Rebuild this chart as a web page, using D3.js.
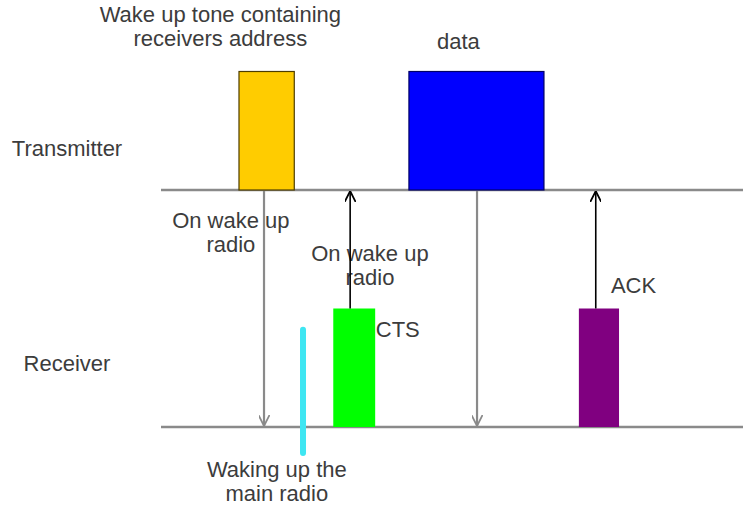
<!DOCTYPE html>
<html>
<head>
<meta charset="utf-8">
<script src="https://cdn.jsdelivr.net/npm/d3@7"></script>
<style>
  body { margin: 0; background: #fff; }
  svg text { font-family: "Liberation Sans", Arial, sans-serif; font-size: 22px; fill: #3c3c3c; }
</style>
</head>
<body>
<svg id="chart" width="743" height="513"></svg>
<script>
// lanes: level 1 = transmitter, level 0 = receiver
const laneNames = ["Receiver", "Transmitter"];
const laneLevels = [0, 1];

// frames sent on each lane (time in arbitrary units 0..100)
const frameNames = ["wakeup", "data", "cts", "ack"];
const frameLane = [1, 1, 0, 0];
const frameStart = [13.4, 42.6, 29.6, 71.8];
const frameEnd = [22.9, 65.8, 36.8, 78.7];
const frameHeight = [0.5, 0.5, 0.5, 0.5];

// message arrows between lanes
const arrowTime = [17.7, 32.5, 54.3, 74.7];
const arrowFrom = [1, 0.5, 1, 0.5];
const arrowTo = [0, 1, 0, 1];
const arrowKind = ["down", "up", "down", "up"];

// main radio wake up marker
const wakeTime = [24.4];
const wakeFrom = [0.41];
const wakeTo = [-0.11];

// annotations: text lines, anchor time, anchor level
const noteLines = [
  ["Wake up tone containing", "receivers address"],
  ["data"],
  ["On wake up", "radio"],
  ["On wake up", "radio"],
  ["CTS"],
  ["ACK"],
  ["Waking up the", "main radio"]
];
const noteTime = [10.2, 51.1, 12.0, 35.9, 36.9, 77.3, 19.9];
const noteLevel = [1.709, 1.595, 0.838, 0.70, 0.38, 0.567, -0.21];
const noteAnchor = ["middle", "middle", "middle", "middle", "start", "start", "middle"];

const laneLabelLevel = [0.236, 1.143];

const colors = {
  wakeup: { fill: "#ffcc00", stroke: "#4d3d00" },
  data: { fill: "#0000ff", stroke: "#000066" },
  cts: { fill: "#00ff00", stroke: "none" },
  ack: { fill: "#800080", stroke: "none" }
};

const svg = d3.select("#chart");

const x = d3.scaleLinear().domain([0, 100]).range([161, 743]);
const y = d3.scaleLinear().domain([0, 1]).range([427, 190]);

// arrowheads
const defs = svg.append("defs");
[["gray", "#8a8a8a"], ["black", "#000"]].forEach(([id, c]) => {
  defs.append("marker")
    .attr("id", "head-" + id)
    .attr("viewBox", "0 0 10 10")
    .attr("refX", 10).attr("refY", 5)
    .attr("markerWidth", 11).attr("markerHeight", 11)
    .attr("markerUnits", "userSpaceOnUse")
    .attr("orient", "auto")
    .append("path")
    .attr("d", "M0,0 L10,5 L0,10")
    .attr("fill", "none")
    .attr("stroke", c)
    .attr("stroke-width", 1.6);
});

// lane labels
svg.append("g").selectAll("text")
  .data(laneNames)
  .join("text")
  .attr("x", 67)
  .attr("y", (d, i) => y(laneLabelLevel[i]))
  .attr("text-anchor", "middle")
  .text(d => d);

// annotations (arrows are drawn over them)
const notes = noteLines.map((lines, i) => ({ lines, t: noteTime[i], lvl: noteLevel[i], anchor: noteAnchor[i] }));
const nt = svg.append("g").selectAll("text")
  .data(notes)
  .join("text")
  .attr("text-anchor", d => d.anchor)
  .attr("x", d => x(d.t))
  .attr("y", d => y(d.lvl));

nt.selectAll("tspan")
  .data(d => d.lines.map(l => ({ l, t: d.t })))
  .join("tspan")
  .attr("x", d => x(d.t))
  .attr("dy", (d, i) => i === 0 ? 0 : 24)
  .text(d => d.l);

// frames
const frames = frameNames.map((n, i) => ({
  name: n, lane: frameLane[i], start: frameStart[i], end: frameEnd[i], h: frameHeight[i]
}));

const arrows = arrowTime.map((t, i) => ({ t, from: arrowFrom[i], to: arrowTo[i], kind: arrowKind[i] }));

svg.append("g").selectAll("line")
  .data(arrows.filter(d => d.kind === "down"))
  .join("line")
  .attr("x1", d => x(d.t)).attr("x2", d => x(d.t))
  .attr("y1", d => y(d.from)).attr("y2", d => y(d.to) - 1)
  .attr("stroke", "#8a8a8a")
  .attr("stroke-width", 2.2)
  .attr("marker-end", "url(#head-gray)");

// lane lines
svg.append("g").selectAll("line")
  .data(laneLevels)
  .join("line")
  .attr("x1", x(0)).attr("x2", x(100))
  .attr("y1", d => y(d)).attr("y2", d => y(d))
  .attr("stroke", "#8a8a8a")
  .attr("stroke-width", 2.5);

svg.append("g").selectAll("rect")
  .data(frames)
  .join("rect")
  .attr("x", d => x(d.start))
  .attr("y", d => y(d.lane + d.h))
  .attr("width", d => x(d.end) - x(d.start))
  .attr("height", d => y(d.lane) - y(d.lane + d.h))
  .attr("fill", d => colors[d.name].fill)
  .attr("stroke", d => colors[d.name].stroke)
  .attr("stroke-width", 1.2);

svg.append("g").selectAll("line")
  .data(arrows.filter(d => d.kind === "up"))
  .join("line")
  .attr("x1", d => x(d.t)).attr("x2", d => x(d.t))
  .attr("y1", d => y(d.from)).attr("y2", d => y(d.to) + 1)
  .attr("stroke", "#000")
  .attr("stroke-width", 1.6)
  .attr("marker-end", "url(#head-black)");

// wake up marker for main radio
svg.append("g").selectAll("line")
  .data(wakeTime.map((t, i) => ({ t, from: wakeFrom[i], to: wakeTo[i] })))
  .join("line")
  .attr("x1", d => x(d.t)).attr("x2", d => x(d.t))
  .attr("y1", d => y(d.from)).attr("y2", d => y(d.to))
  .attr("stroke", "#3ee6f2")
  .attr("stroke-width", 6)
  .attr("stroke-linecap", "round");
</script>
</body>
</html>
